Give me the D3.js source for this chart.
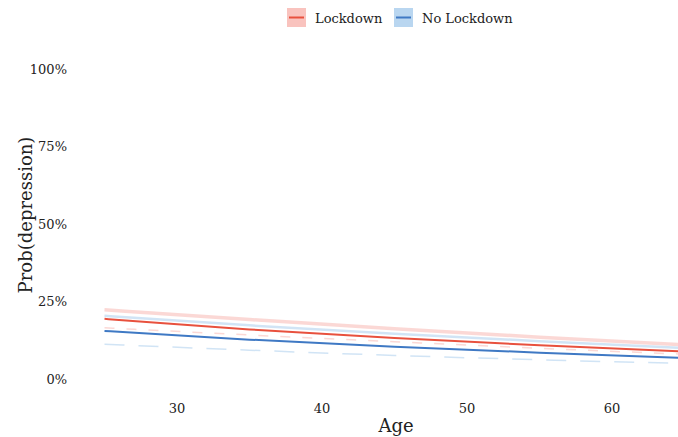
<!DOCTYPE html>
<html>
<head>
<meta charset="utf-8">
<script src="https://cdn.jsdelivr.net/npm/d3@7"></script>
<style>
  body { margin: 0; background: #fff; }
  text { font-family: "DejaVu Serif", "Liberation Serif", serif; fill: #222; }
</style>
</head>
<body>
<div id="chart"></div>
<script>
const ages = [25, 35, 45, 55, 65];
// percentages
const lockdownFit   = [19.4, 16.0, 13.2, 10.9, 8.9];
const lockdownUpper = [22.3, 19.2, 16.2, 13.5, 11.0];
const lockdownLower = [16.5, 14.2, 12.0, 9.9, 8.0];
const noLockFit     = [15.5, 12.7, 10.4, 8.5, 6.8];
const noLockUpper   = [20.4, 17.3, 14.6, 12.2, 10.0];
const noLockLower   = [11.2, 9.3, 7.6, 6.2, 5.0];

const xTicks = [30, 40, 50, 60];
const yTicks = [0, 25, 50, 75, 100];
const groups = ["Lockdown", "No Lockdown"];

const width = 678, height = 437;
const colors = { main: ["#E8513E", "#3F79C4"], light: ["#F9C3BE", "#B9D6F0"] };

const svg = d3.select("#chart").append("svg")
    .attr("width", width).attr("height", height);

const x = d3.scaleLinear().domain([25, 65]).range([104.5, 684.5]);
const y = d3.scaleLinear().domain([0, 100]).range([379, 69]);

// y tick labels
svg.append("g").selectAll("text")
    .data(yTicks).join("text")
    .attr("x", 67).attr("y", d => y(d))
    .attr("dy", "0.35em")
    .attr("text-anchor", "end")
    .style("font-size", "13px")
    .text(d => d + "%");

// x tick labels
svg.append("g").selectAll("text")
    .data(xTicks).join("text")
    .attr("x", d => x(d)).attr("y", 408)
    .attr("dy", "0.35em")
    .attr("text-anchor", "middle")
    .style("font-size", "13px")
    .text(d => d);

svg.append("text")
    .attr("x", 396).attr("y", 432)
    .attr("text-anchor", "middle")
    .style("font-size", "18px")
    .text("Age");

svg.append("text")
    .attr("transform", "translate(32,215) rotate(-90)")
    .attr("text-anchor", "middle")
    .style("font-size", "18px")
    .text("Prob(depression)");

const line = d3.line()
    .x((d, i) => x(ages[i]))
    .y(d => y(d))
    .curve(d3.curveMonotoneX);

const plot = svg.append("g");

const series = [
    { vals: lockdownUpper, g: 0, w: 3.5, dash: null, light: true },
    { vals: noLockUpper, g: 1, w: 2.5, dash: null, light: true },
    { vals: lockdownLower, g: 0, w: 1.5, dash: "10,12", light: true },
    { vals: noLockLower, g: 1, w: 1.5, dash: "20,14", light: true },
    { vals: lockdownFit, g: 0, w: 2, dash: null, light: false },
    { vals: noLockFit, g: 1, w: 2, dash: null, light: false }
];

plot.selectAll("path")
    .data(series).join("path")
    .attr("d", d => line(d.vals))
    .attr("fill", "none")
    .attr("stroke", d => d.light ? colors.light[d.g] : colors.main[d.g])
    .attr("stroke-width", d => d.w)
    .attr("stroke-dasharray", d => d.dash)
    .attr("opacity", d => d.light ? 0.65 : 1);

// legend
const legend = svg.append("g");
const keyX = [287, 394];
groups.forEach((name, i) => {
    const k = legend.append("g").attr("transform", `translate(${keyX[i]},8)`);
    k.append("rect")
        .attr("width", 19).attr("height", 19)
        .attr("fill", colors.light[i]);
    k.append("line")
        .attr("x1", 2).attr("x2", 17)
        .attr("y1", 9.5).attr("y2", 9.5)
        .attr("stroke", colors.main[i])
        .attr("stroke-width", 2);
    k.append("text")
        .attr("x", 28).attr("y", 10)
        .attr("dy", "0.35em")
        .style("font-size", "13px")
        .text(name);
});
</script>
</body>
</html>
